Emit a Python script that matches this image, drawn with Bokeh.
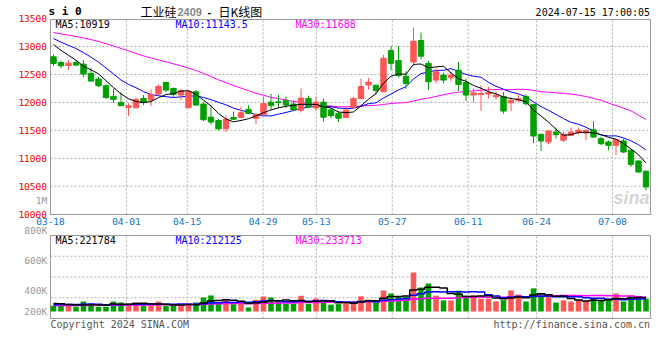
import numpy as np
from bokeh.plotting import figure
from bokeh.models import Range1d, Label, ColumnDataSource
from bokeh.core.properties import value
from bokeh.embed import file_html
from bokeh.resources import INLINE

# ---------------- data ----------------
dates = ["03-18", "03-19", "03-20", "03-21", "03-22", "03-25", "03-26", "03-27", "03-28", "03-29",
         "04-01", "04-02", "04-03", "04-08", "04-09", "04-10", "04-11", "04-12", "04-15", "04-16",
         "04-17", "04-18", "04-19", "04-22", "04-23", "04-24", "04-25", "04-26", "04-29", "04-30",
         "05-06", "05-07", "05-08", "05-09", "05-10", "05-13", "05-14", "05-15", "05-16", "05-17",
         "05-20", "05-21", "05-22", "05-23", "05-24", "05-27", "05-28", "05-29", "05-30", "05-31",
         "06-03", "06-04", "06-05", "06-06", "06-07", "06-11", "06-12", "06-13", "06-14", "06-17",
         "06-18", "06-19", "06-20", "06-21", "06-24", "06-25", "06-26", "06-27", "06-28", "07-01",
         "07-02", "07-03", "07-04", "07-05", "07-08", "07-09", "07-10", "07-11", "07-12", "07-15"]

tick_dates = ["03-18", "04-01", "04-15", "04-29", "05-13", "05-27", "06-11", "06-24", "07-08"]

opens = [12815, 12714, 12661, 12714, 12684, 12518, 12417, 12298, 12107, 12000,
         11911, 11905, 12071, 12042, 12149, 12357, 12250, 12131, 11905, 12190,
         11970, 11735, 11676, 11527, 11729, 11732, 11875, 11714, 11777, 12003,
         12010, 12033, 11970, 11860, 12068, 11900, 12003, 11866, 11801, 11732,
         11911, 12068, 12313, 12307, 12190, 12926, 12750, 12467, 12723, 13107,
         12696, 12399, 12488, 12440, 12577, 12357, 12131, 12143, 12150, 12100,
         12107, 11994, 12036, 12107, 11964, 11429, 11292, 11470, 11321, 11411,
         11458, 11452, 11512, 11351, 11292, 11232, 11310, 11143, 10952, 10768]
highs = [12857, 12750, 12756, 12756, 12756, 12619, 12458, 12321, 12250, 12179,
         11988, 12089, 12131, 12232, 12321, 12369, 12262, 12238, 12220, 12220,
         12000, 11943, 11705, 11765, 11836, 11925, 11949, 11804, 12107, 12155,
         12137, 12107, 12036, 12247, 12119, 12098, 12068, 11896, 11836, 11934,
         12104, 12426, 12440, 12313, 12850, 13006, 13006, 12557, 13340, 13250,
         12744, 12607, 12530, 12548, 12726, 12429, 12250, 12300, 12280, 12200,
         12185, 12095, 12143, 12143, 11976, 11441, 11500, 11548, 11470, 11548,
         11548, 11512, 11667, 11381, 11321, 11351, 11351, 11161, 10964, 10786]
lows = [12649, 12613, 12577, 12649, 12452, 12369, 12274, 12060, 11994, 11935,
        11760, 11893, 11952, 11935, 12131, 12179, 12089, 12042, 11893, 11940,
        11665, 11607, 11500, 11470, 11690, 11714, 11792, 11610, 11759, 11870,
        11900, 11899, 11845, 11820, 11890, 11845, 11658, 11714, 11646, 11720,
        11890, 12057, 12229, 12143, 12180, 12574, 12446, 12244, 12650, 12777,
        12220, 12339, 12339, 12381, 12200, 12024, 12000, 11851, 12071, 12050,
        11798, 11845, 12006, 11946, 11274, 11131, 11250, 11351, 11292, 11393,
        11429, 11321, 11369, 11232, 11143, 11054, 11095, 10845, 10738, 10429]
closes = [12696, 12655, 12702, 12667, 12506, 12381, 12298, 12089, 12054, 11940,
          11940, 12054, 12000, 12143, 12286, 12220, 12143, 12214, 12190, 11952,
          11690, 11649, 11527, 11696, 11699, 11815, 11804, 11786, 11979, 11943,
          11997, 11955, 11866, 12077, 11920, 12003, 11735, 11765, 11717, 11860,
          12068, 12283, 12360, 12214, 12790, 12699, 12479, 12336, 13095, 12827,
          12369, 12548, 12399, 12488, 12321, 12131, 12170, 12160, 12175, 12130,
          11845, 12036, 12065, 11976, 11399, 11310, 11488, 11423, 11429, 11470,
          11500, 11500, 11381, 11262, 11232, 11333, 11113, 10893, 10756, 10488]
volumes = [91000, 91000, 101000, 75000, 160000, 123000, 75000, 75000, 160000, 144000,
           123000, 144000, 91000, 91000, 160000, 91000, 91000, 91000, 128000, 144000,
           224000, 256000, 123000, 187000, 117000, 144000, 64000, 187000, 240000, 224000,
           155000, 123000, 123000, 251000, 123000, 208000, 144000, 110000, 118000, 144000,
           144000, 243000, 190000, 144000, 336000, 288000, 240000, 235000, 624000, 384000,
           448000, 253000, 178000, 178000, 333000, 253000, 262000, 205000, 205000, 160000,
           182000, 336000, 270000, 160000, 370000, 288000, 262000, 144000, 178000, 160000,
           186000, 168000, 205000, 168000, 205000, 288000, 160000, 253000, 208000, 205000]

# sessions before 03-18 (not drawn; estimated from where the MA lines start)
prior_closes = [13350, 13420, 13380, 13300, 13260, 13310, 13280, 13240, 13290, 13330,
                13350, 13310, 13270, 13300, 13260, 13240, 13280, 13330, 13300, 13270,
                13300, 13280, 13240, 13230, 13200, 13180, 13150, 13100, 13054]
prior_volumes = [80000, 95000, 70000, 110000, 85000, 90000, 75000, 100000, 80000, 95000,
                 85000, 70000, 90000, 105000, 80000, 95000, 85000, 90000, 75000, 95000,
                 85000, 100000, 80000, 95000, 90000, 130000, 150000, 125000, 154000]

price_ticks = [10000, 10500, 11000, 11500, 12000, 12500, 13000, 13500]
price_legend = ["MA5:10919", "MA10:11143.5", "MA30:11688"]
vol_legend = ["MA5:221784", "MA10:212125", "MA30:233713"]
vol_axis_labels = ["800K", "600K", "400K", "200K"]

# ---------------- helpers ----------------
N = len(dates)
idx = np.arange(N)


def moving_avg(hist, vals, n):
    arr = np.array(hist + vals, dtype=float)
    return np.convolve(arr, np.ones(n) / n, mode="valid")[-N:]


ma5 = moving_avg(prior_closes, closes, 5)
ma10 = moving_avg(prior_closes, closes, 10)
ma30 = moving_avg(prior_closes, closes, 30)
vma5 = moving_avg(prior_volumes, volumes, 5)
vma10 = moving_avg(prior_volumes, volumes, 10)
vma30 = moving_avg(prior_volumes, volumes, 30)

UP = "#ff5555"
DOWN = "#00a000"
colors = [UP if c >= o else DOWN for o, c in zip(opens, closes)]

W, H = 651, 334
X0, X1 = -0.4, N - 0.4      # data range covered by the panels
FX0, FX1 = 50, 650          # panel edges, px


def vx(xs):
    return X0 + (xs - FX0) * (X1 - X0) / (FX1 - FX0)


PY_PER_PX = 3000 / (213.7 - 46.0)


def py(ys):
    return 10000 + (213.7 - ys) * PY_PER_PX


VOL_PER_PX = 16000


def vy(ys):
    return (311 - ys) * VOL_PER_PX


# price panel: 19..214 px, volume panel: 235..318 px
P_TOP, P_BOT = 19, 214
V_TOP, V_BOT = 235, 318

# grid spacing of the original chart: panel width / (N-1)
tick_idx = [dates.index(d) for d in tick_dates]
tick_pos = [X0 + i * (X1 - X0) / (N - 1) for i in tick_idx]

MONO = "DejaVu Sans Mono"
GRID = "#b0b0b0"
FRAME = "#999999"

p = figure(width=W, height=H, title=None,
           x_range=Range1d(vx(0), vx(W)), y_range=Range1d(py(H), py(0)),
           x_axis_location=None, y_axis_location=None,
           output_backend="svg", toolbar_location=None, min_border=0)
p.extra_y_ranges = {"vol": Range1d(vy(H), vy(0))}
p.outline_line_color = None
p.background_fill_color = "white"
p.border_fill_color = "white"
p.grid.visible = False

# ---- grids ----
p.segment(x0=tick_pos, y0=[py(P_BOT)] * len(tick_pos), x1=tick_pos, y1=[py(P_TOP)] * len(tick_pos),
          line_color=GRID, line_dash="2 2", line_width=1)
p.segment(x0=[vx(FX0)] * 6, y0=price_ticks[1:7], x1=[vx(FX1)] * 6, y1=price_ticks[1:7],
          line_color=GRID, line_dash="2 2", line_width=1)
p.segment(x0=tick_pos, y0=[vy(V_BOT)] * len(tick_pos), x1=tick_pos, y1=[vy(V_TOP)] * len(tick_pos),
          line_color=GRID, line_dash="2 2", line_width=1, y_range_name="vol")
vgrid = [vy(V_BOT) + k * (vy(V_TOP) - vy(V_BOT)) / 4 for k in (1, 2, 3)]
p.segment(x0=[vx(FX0)] * 3, y0=vgrid, x1=[vx(FX1)] * 3, y1=vgrid,
          line_color=GRID, line_dash="2 2", line_width=1, y_range_name="vol")

# ---- panel frames ----
p.quad(left=[vx(FX0)], right=[vx(FX1)], top=[py(P_TOP)], bottom=[py(P_BOT)],
       fill_color=None, line_color=FRAME, line_width=1)
p.quad(left=[vx(FX0)], right=[vx(FX1)], top=[vy(V_TOP)], bottom=[vy(V_BOT)],
       fill_color=None, line_color=FRAME, line_width=1, y_range_name="vol")

# ---- candles ----
src = ColumnDataSource(dict(
    x=idx, o=opens, h=highs, l=lows, c=closes,
    top=[max(o, c) for o, c in zip(opens, closes)],
    bottom=[min(o, c) for o, c in zip(opens, closes)],
    color=colors, vol=volumes))

p.line(idx, ma30, line_color="#ff00ff", line_width=1)
p.line(idx, ma10, line_color="#0000ff", line_width=1)
p.segment(x0="x", y0="h", x1="x", y1="l", line_color="color", line_width=1, source=src)
p.vbar(x="x", width=0.72, top="top", bottom="bottom", fill_color="color",
       line_color="color", line_width=1, source=src)
p.line(idx, ma5, line_color="black", line_width=1)

# ---- volume ----
p.vbar(x="x", width=0.74, top="vol", bottom=0, fill_color="color", line_color=None,
       source=src, y_range_name="vol")
p.step(idx, vma30, mode="center", line_color="#ff00ff", line_width=1.5, y_range_name="vol")
p.step(idx, vma10, mode="center", line_color="#0000ff", line_width=1.5, y_range_name="vol")
p.step(idx, vma5, mode="center", line_color="black", line_width=1.5, y_range_name="vol")

# ---- axis labels ----
p.text(x=[vx(46.5)] * len(price_ticks), y=price_ticks, text=[str(t) for t in price_ticks],
       text_align="right", text_baseline="middle", text_color="#ee0000",
       text_font=value(MONO), text_font_size=value("9.5px"))
p.text(x=tick_pos, y=[py(221)] * len(tick_pos), text=tick_dates,
       text_align="center", text_baseline="middle", text_color="#0a78c8",
       text_font=value(MONO), text_font_size=value("9.5px"))
p.text(x=[vx(46.7)] * 5, y=[py(200), py(230), py(260), py(290), py(311)],
       text=["1M"] + vol_axis_labels,
       text_align="right", text_baseline="middle", text_color="#999999",
       text_font=value(MONO), text_font_size=value("9.5px"))


def add_label(x, y, text, color="black", size="10px", font=MONO, align="left",
              style="normal", alpha=1.0):
    p.add_layout(Label(x=x, y=y, text=text, text_color=color, text_font=font,
                       text_font_size=size, text_align=align, text_baseline="middle",
                       text_font_style=style, text_alpha=alpha))


# header
add_label(vx(48), py(11), "s i 0", size="11px", style="bold")
add_label(vx(140), py(11), "工业硅", size="12px", font="Noto Sans CJK SC")
add_label(vx(177), py(11), "2409", color="#888888", size="11px", font="Liberation Sans",
          style="bold")
add_label(vx(207), py(11), "-", size="11px", font="Liberation Sans", style="bold")
add_label(vx(218), py(11), "日K线图", size="12px", font="Noto Sans CJK SC")
add_label(vx(649.5), py(12), "2024-07-15 17:00:05", align="right")

# legend rows
for xs, txt, col in zip([55, 175, 295], price_legend, ["black", "#0000ff", "#ff00ff"]):
    add_label(vx(xs), py(23.5), txt, color=col)
for xs, txt, col in zip([55, 175, 295], vol_legend, ["black", "#0000ff", "#ff00ff"]):
    add_label(vx(xs), py(239.5), txt, color=col)

# watermark
add_label(vx(649), py(197), "sina", color="#c8c8c8", size="18px", font="Liberation Sans",
          align="right", style="bold italic", alpha=0.8)

# footer
add_label(vx(50), py(324), "Copyright 2024 SINA.COM", color="#555555")
add_label(vx(649.5), py(324), "http://finance.sina.com.cn", color="#555555", align="right")

open("out.html", "w").write(file_html(p, INLINE))
